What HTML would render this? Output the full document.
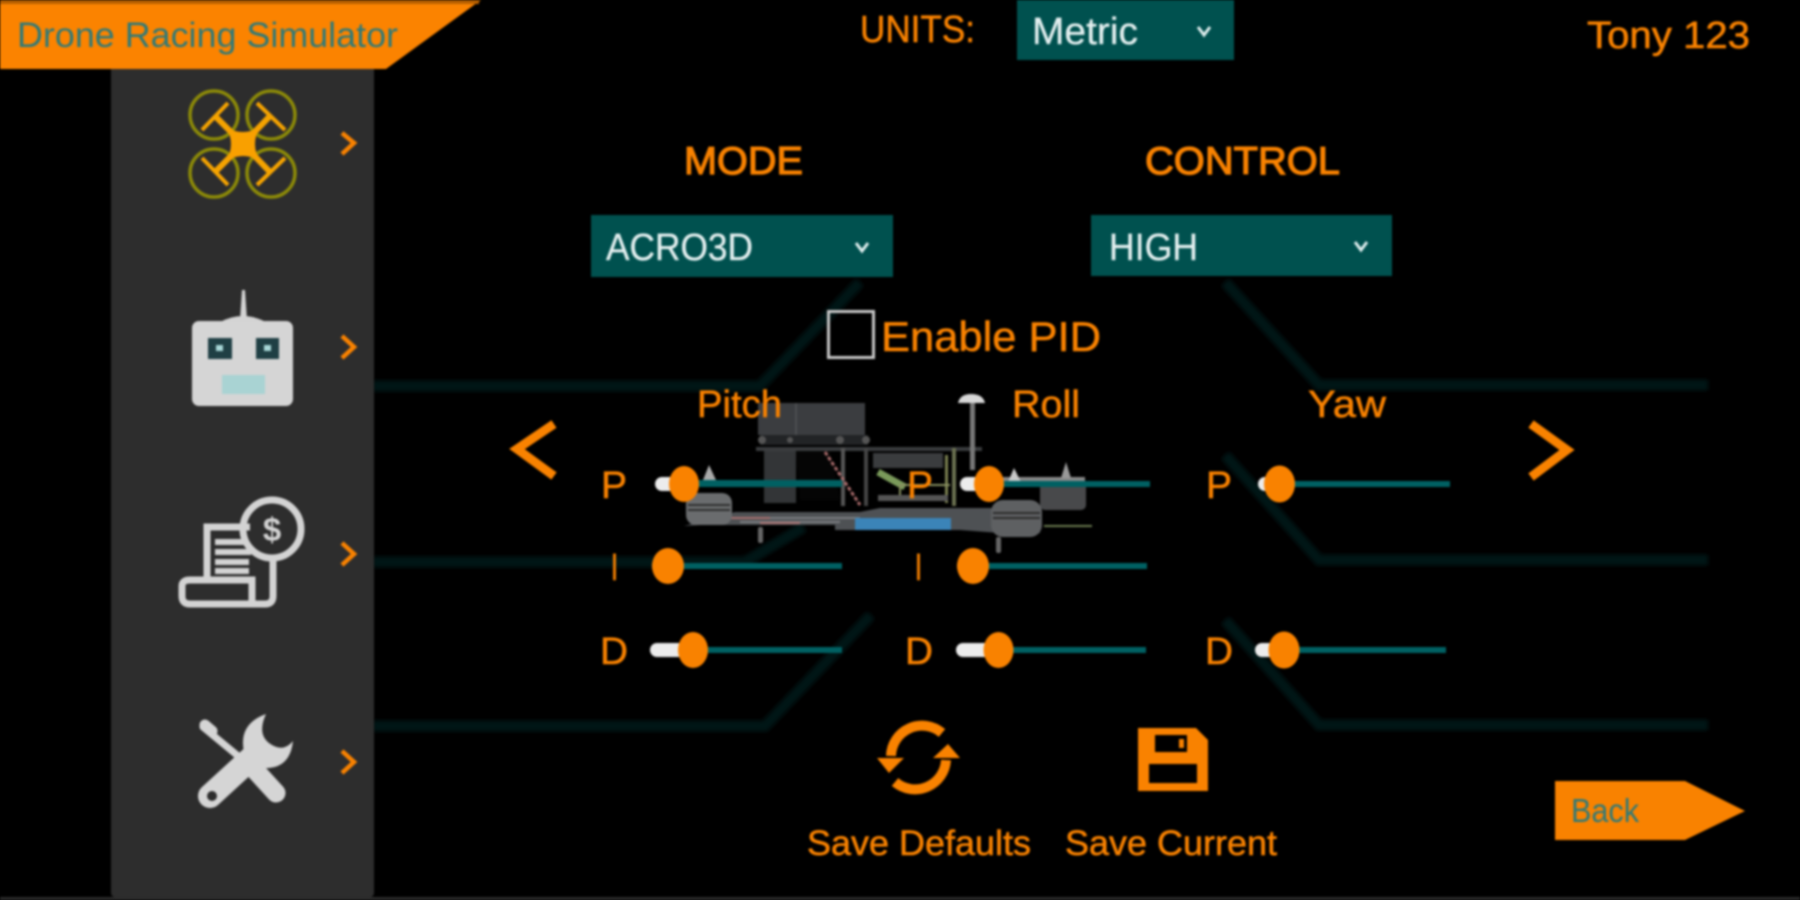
<!DOCTYPE html>
<html>
<head>
<meta charset="utf-8">
<style>
html,body{margin:0;padding:0;background:#000;width:1800px;height:900px;overflow:hidden}
svg{display:block;filter:blur(1px)}
text{font-family:"Liberation Sans",sans-serif}
.o{fill:#f98200;font-size:38px;stroke:#f98200;stroke-width:.5px}
.w{fill:#e4f0f0;font-size:38px;stroke:#e4f0f0;stroke-width:.3px}
.t{fill:#2f7a78;font-size:35px}
</style>
</head>
<body>
<svg width="1800" height="900" viewBox="0 0 1800 900" xmlns="http://www.w3.org/2000/svg">
<defs>
<filter id="b" x="-5%" y="-5%" width="110%" height="110%"><feGaussianBlur stdDeviation="2.500"/></filter>
</defs>
<rect width="1800" height="900" fill="#000"/>
<rect x="0" y="897" width="1800" height="3" fill="#2b2b2b"/>

<!-- background circuit lines -->
<g fill="none" stroke="#021418" stroke-width="11" filter="url(#b)">
<path d="M373 386H760L860 282"/>
<path d="M373 562H745L804 527"/>
<path d="M373 726H765L871 615"/>
<path d="M1225 282L1319 385H1708"/>
<path d="M1225 455L1319 560H1708"/>
<path d="M1225 620L1319 725H1708"/>
</g>

<!-- sidebar -->
<rect x="111" y="66" width="263" height="831" rx="4" fill="#2d2d2d"/>

<!-- header -->
<polygon points="0,0 481,0 386,69 0,69" fill="#fb8300"/>
<rect x="0" y="0" width="479" height="4" fill="#b86000"/>
<text x="17" y="47" class="t" textLength="381" lengthAdjust="spacingAndGlyphs">Drone Racing Simulator</text>

<!-- drone icon -->
<g fill="none" stroke="#8c8a08" stroke-width="3.500">
<circle cx="214" cy="115" r="24"/><circle cx="271" cy="115" r="24"/>
<circle cx="214" cy="173" r="24"/><circle cx="271" cy="173" r="24"/>
</g>
<g fill="none" stroke="#f5a300" stroke-width="6">
<path d="M243 144L214 115M243 144L271 115M243 144L214 173M243 144L271 173"/>
<path d="M202 130L228 103M257 103L285 130M202 158L228 185M257 185L285 158" stroke-width="4"/>
</g>
<path d="M226 127Q243 137 260 127Q250 144 260 161Q243 151 226 161Q236 144 226 127Z" fill="#f9a000"/>

<!-- sidebar chevrons -->
<g fill="none" stroke="#f98200" stroke-width="4.500">
<path d="M342 133L354 143L342 154"/>
<path d="M342 336L354 347L342 358"/>
<path d="M342 543L354 554L342 565"/>
<path d="M342 751L354 762L342 773"/>
</g>

<!-- remote -->
<path d="M240 320L242 290H245L247 320Z" fill="#d3d3d3"/>
<path d="M220 322Q243 310 266 322Z" fill="#d3d3d3"/>
<rect x="192" y="321" width="101" height="85" rx="7" fill="#d5d5d5"/>
<rect x="208" y="338" width="24" height="21" fill="#1f3f44"/>
<rect x="256" y="338" width="23" height="21" fill="#1f3f44"/>
<rect x="216" y="345" width="7" height="6" fill="#a9d8d8"/>
<rect x="264" y="345" width="7" height="6" fill="#a9d8d8"/>
<rect x="222" y="375" width="43" height="19" fill="#a9d3d3"/>

<!-- receipt icon -->
<g fill="none" stroke="#d3d3d3" stroke-width="7">
<path d="M207 578V527H250"/>
<path d="M273 560V596Q273 604 265 604H190Q182 604 182 596V586Q182 580 190 580H252V604"/>
<circle cx="272" cy="529" r="29"/>
</g>
<g fill="#d3d3d3">
<rect x="215" y="539" width="30" height="6"/>
<rect x="215" y="549" width="36" height="6"/>
<rect x="215" y="559" width="34" height="6"/>
<rect x="215" y="568" width="34" height="6"/>
</g>
<text x="272" y="541" text-anchor="middle" style="font-size:33px;font-weight:bold" fill="#d3d3d3">$</text>

<!-- wrench icon -->
<g fill="none" stroke="#d5d5d5" stroke-linecap="round">
<path d="M203 727L255 770" stroke-width="7"/>
<path d="M205 725L212 731" stroke-width="11"/>
<path d="M255 770L276 793" stroke-width="19"/>
<path d="M210 796L258 752" stroke-width="24"/>
</g>
<path d="M266 714Q238 724 244 752L262 768Q290 770 293 741Q284 752 272 745Q256 736 266 714Z" fill="#d5d5d5"/>
<circle cx="212" cy="796" r="5" fill="#2d2d2d"/>

<!-- units -->
<text x="860" y="42" class="o" textLength="115" lengthAdjust="spacingAndGlyphs">UNITS:</text>
<rect x="1017" y="0" width="217" height="60" fill="#00514f"/>
<text x="1032" y="44" class="w" textLength="106" lengthAdjust="spacingAndGlyphs">Metric</text>
<path d="M1198 27L1204 35L1210 27" fill="none" stroke="#dfeeee" stroke-width="3"/>
<text x="1587" y="48" class="o" textLength="163" lengthAdjust="spacingAndGlyphs">Tony 123</text>

<!-- mode / control -->
<text x="684" y="174" class="o" style="font-size:39px;stroke-width:1.200px" textLength="119" lengthAdjust="spacingAndGlyphs">MODE</text>
<text x="1145" y="174" class="o" style="font-size:39px;stroke-width:1.200px" textLength="195" lengthAdjust="spacingAndGlyphs">CONTROL</text>
<rect x="591" y="215" width="302" height="62" fill="#00514f"/>
<text x="606" y="260" class="w" textLength="147" lengthAdjust="spacingAndGlyphs">ACRO3D</text>
<path d="M856 243L862 251L868 243" fill="none" stroke="#dfeeee" stroke-width="3"/>
<rect x="1091" y="215" width="301" height="61" fill="#00514f"/>
<text x="1109" y="260" class="w" textLength="89" lengthAdjust="spacingAndGlyphs">HIGH</text>
<path d="M1355 242L1361 250L1367 242" fill="none" stroke="#dfeeee" stroke-width="3"/>

<!-- enable PID -->
<rect x="828.500" y="311.500" width="45" height="46" fill="none" stroke="#c8c8c8" stroke-width="3"/>
<text x="881" y="351" style="font-size:42px" class="o" textLength="220" lengthAdjust="spacingAndGlyphs">Enable PID</text>

<!-- drone photo approximation -->
<g>
<rect x="758" y="403" width="107" height="32" fill="#3b3d40"/>
<rect x="795" y="403" width="2" height="32" fill="#4c4e50"/>
<rect x="760" y="435" width="108" height="10" fill="#222426"/>
<circle cx="762" cy="440" r="4" fill="#555"/><circle cx="790" cy="440" r="3" fill="#555"/>
<circle cx="840" cy="440" r="4" fill="#555"/><circle cx="866" cy="440" r="4" fill="#555"/>
<rect x="756" y="447" width="226" height="4" fill="#3a3c3e"/>
<path d="M764 451H796V503H764Z" fill="#333537"/>
<path d="M796 451H830L840 500H800Z" fill="#050505"/>
<rect x="970" y="403" width="5" height="67" fill="#777"/>
<path d="M958 403Q960 394 971 394Q983 394 985 403Z" fill="#d8d8d8"/>
<rect x="873" y="453" width="70" height="15" fill="#3a3c3e"/>
<rect x="841" y="448" width="4" height="58" fill="#555"/>
<rect x="864" y="448" width="4" height="58" fill="#444"/>
<rect x="952" y="448" width="4" height="58" fill="#6a7050"/>
<rect x="945" y="455" width="3" height="48" fill="#7a8050"/>
<path d="M825 452L860 505" stroke="#a86a6a" stroke-width="3" fill="none" stroke-dasharray="4 2"/>
<path d="M878 472L905 487" stroke="#7a9a5a" stroke-width="7" fill="none"/>
<path d="M900 500V485H950" stroke="#889060" stroke-width="2" fill="none"/>
<rect x="878" y="495" width="70" height="6" fill="#555"/>
<path d="M684 526L735 512H860L880 508H990L1040 510V533H1000L960 530H835L835 525H700Z" fill="#4e5154"/>
<path d="M735 518H860M740 522H840" stroke="#7a7d80" stroke-width="2"/>
<path d="M730 518H770M760 523H800" stroke="#a87070" stroke-width="2"/>
<rect x="855" y="518" width="96" height="12" fill="#3b84b8"/>
<rect x="686" y="493" width="46" height="32" rx="10" fill="#6a6c6e"/>
<path d="M688 505H730M688 510H730" stroke="#2e2e2e" stroke-width="2"/>
<rect x="1040" y="483" width="46" height="27" rx="5" fill="#48494b"/>
<rect x="991" y="500" width="51" height="37" rx="12" fill="#5e6062"/>
<path d="M993 513H1040M993 518H1040" stroke="#2c2c2c" stroke-width="2"/>
<path d="M1000 480H1085" stroke="#888" stroke-width="6"/>
<path d="M703 480L709 465L716 480Z" fill="#aaa"/>
<path d="M1008 482L1014 468L1021 482Z" fill="#c8c8c8"/>
<path d="M1061 478L1066 462L1071 478Z" fill="#999"/>
<rect x="758" y="527" width="5" height="16" rx="2" fill="#666"/>
<rect x="996" y="537" width="5" height="16" rx="2" fill="#666"/>
<path d="M1044 526H1092" stroke="#6a7a50" stroke-width="2"/>
</g>

<!-- column titles -->
<text x="697" y="417" class="o" textLength="85" lengthAdjust="spacingAndGlyphs">Pitch</text>
<text x="1012" y="417" class="o" textLength="68" lengthAdjust="spacingAndGlyphs">Roll</text>
<text x="1308" y="417" class="o" textLength="78" lengthAdjust="spacingAndGlyphs">Yaw</text>

<!-- sliders -->
<g fill="#006062">
<rect x="684" y="480" width="158" height="7"/>
<rect x="668" y="563" width="174" height="6"/>
<rect x="693" y="647" width="149" height="6"/>
<rect x="989" y="481" width="161" height="6"/>
<rect x="973" y="563" width="174" height="6"/>
<rect x="998" y="647" width="148" height="6"/>
<rect x="1279" y="481" width="171" height="6"/>
<rect x="1284" y="647" width="162" height="6"/>
</g>
<g fill="#ececec">
<rect x="655" y="477" width="30" height="14" rx="7"/>
<rect x="652" y="559" width="20" height="14" rx="7"/>
<rect x="650" y="643" width="44" height="14" rx="7"/>
<rect x="960" y="477" width="30" height="14" rx="7"/>
<rect x="957" y="559" width="20" height="14" rx="7"/>
<rect x="956" y="643" width="44" height="14" rx="7"/>
<rect x="1258" y="477" width="22" height="14" rx="7"/>
<rect x="1255" y="643" width="30" height="14" rx="7"/>
</g>
<g fill="#f98200">
<ellipse cx="684" cy="484" rx="15" ry="18"/>
<ellipse cx="668" cy="566" rx="16" ry="18"/>
<ellipse cx="693" cy="650" rx="15" ry="18"/>
<ellipse cx="989" cy="484" rx="15" ry="18"/>
<ellipse cx="973" cy="566" rx="16" ry="18"/>
<ellipse cx="998.500" cy="650" rx="15" ry="18"/>
<ellipse cx="1279.500" cy="484" rx="15.500" ry="18.500"/>
<ellipse cx="1284" cy="650" rx="15.500" ry="18.500"/>
</g>

<!-- slider labels -->
<g>
<text x="601" y="498" class="o" textLength="26" lengthAdjust="spacingAndGlyphs">P</text>
<text x="611" y="580" class="o" textLength="7" lengthAdjust="spacingAndGlyphs">I</text>
<text x="600" y="664" class="o" textLength="28" lengthAdjust="spacingAndGlyphs">D</text>
<text x="907" y="498" class="o" textLength="26" lengthAdjust="spacingAndGlyphs">P</text>
<text x="915" y="580" class="o" textLength="7" lengthAdjust="spacingAndGlyphs">I</text>
<text x="905" y="664" class="o" textLength="28" lengthAdjust="spacingAndGlyphs">D</text>
<text x="1206" y="498" class="o" textLength="26" lengthAdjust="spacingAndGlyphs">P</text>
<text x="1205" y="664" class="o" textLength="28" lengthAdjust="spacingAndGlyphs">D</text>
</g>

<!-- paging arrows -->
<path d="M554 424L517 449L554 476" fill="none" stroke="#f98200" stroke-width="9"/>
<path d="M1531 424L1567 450L1531 477" fill="none" stroke="#f98200" stroke-width="9"/>

<!-- refresh icon -->
<g fill="none" stroke="#f98200" stroke-width="10">
<path d="M942 733A31 31 0 0 0 891 756"/>
<path d="M895 782A31 31 0 0 0 946 760"/>
</g>
<polygon points="877,758 904,758 889,773" fill="#f98200"/>
<polygon points="933,758 960,758 948,744" fill="#f98200"/>

<!-- save icon -->
<polygon points="1138,728 1196,728 1208,740 1208,791 1138,791" fill="#f98200"/>
<rect x="1155" y="735" width="32" height="17" fill="#000"/>
<rect x="1179" y="739" width="5" height="9" fill="#f98200"/>
<rect x="1149" y="764" width="48" height="19" fill="#000"/>

<text x="807" y="855" class="o" style="font-size:35px" textLength="224" lengthAdjust="spacingAndGlyphs">Save Defaults</text>
<text x="1065" y="855" class="o" style="font-size:35px" textLength="212" lengthAdjust="spacingAndGlyphs">Save Current</text>

<!-- back -->
<polygon points="1555,781 1685,781 1745,811 1685,840 1555,840" fill="#f98200"/>
<text x="1571" y="822" class="t" style="font-size:33px" textLength="68" lengthAdjust="spacingAndGlyphs">Back</text>
</svg>
</body>
</html>
